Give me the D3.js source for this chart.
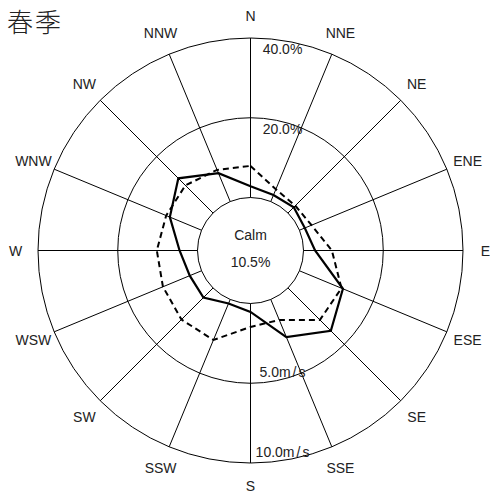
<!DOCTYPE html>
<html>
<head>
<meta charset="utf-8">
<script src="https://cdn.jsdelivr.net/npm/d3@7"></script>
<style>
  html, body { margin: 0; padding: 0; background: #fff; }
  svg { display: block; }
  text { font-family: "Liberation Sans", Arial, sans-serif; fill: #222; }
</style>
</head>
<body>
<svg id="chart" width="490" height="495"></svg>
<script>
// ---- data ----
const title = "春季";
const directions = ["N","NNE","NE","ENE","E","ESE","SE","SSE","S","SSW","SW","WSW","W","WNW","NW","NNW"];
// frequency of occurrence (%), solid line
const frequency = [2.8, 1.75, 2.05, 1.45, 2.9, 11.8, 15.2, 10.2, 2.1, 1.1, 3.4, 3.2, 4.5, 8.6, 12.3, 7.7];
// mean wind speed (m/s), dashed line
const speed = [1.98, 0.83, 0.65, 0.82, 1.78, 2.85, 2.83, 1.39, 1.47, 2.75, 2.8, 2.62, 2.55, 2.4, 2.45, 2.15];
const calmLabel = "Calm";
const calmValue = "10.5%";
const freqTicks = [20, 40];
const freqTickLabels = ["20.0%", "40.0%"];
const speedTicks = [5, 10];
const speedTickLabels = ["5.0m/s", "10.0m/s"];

// ---- layout ----
const cx = 250.5, cy = 250.5;
const rCalm = 53, rOuter = 212.5, rLabel = 235;
const rFreq = d3.scaleLinear().domain([0, 40]).range([rCalm, rOuter]);
const rSpeed = d3.scaleLinear().domain([0, 10]).range([rCalm, rOuter]);
const angle = d3.scalePoint().domain(directions).range([0, 2 * Math.PI * (15 / 16)]);

const svg = d3.select("#chart");
const g = svg.append("g").attr("transform", `translate(${cx},${cy})`);

// rings
const rings = [rCalm].concat(freqTicks.map(rFreq));
g.selectAll("circle.ring").data(rings).join("circle")
  .attr("class", "ring")
  .attr("r", d => d)
  .attr("fill", "none").attr("stroke", "#000").attr("stroke-width", 1);

// spokes
g.selectAll("line.spoke").data(directions).join("line")
  .attr("class", "spoke")
  .attr("x1", d => rCalm * Math.sin(angle(d)))
  .attr("y1", d => -rCalm * Math.cos(angle(d)))
  .attr("x2", d => rOuter * Math.sin(angle(d)))
  .attr("y2", d => -rOuter * Math.cos(angle(d)))
  .attr("stroke", "#000").attr("stroke-width", 1);

// direction labels
g.selectAll("text.dir").data(directions).join("text")
  .attr("class", "dir")
  .attr("x", d => rLabel * Math.sin(angle(d)))
  .attr("y", d => -rLabel * Math.cos(angle(d)))
  .attr("text-anchor", "middle")
  .attr("dominant-baseline", "central")
  .attr("font-size", 14)
  .text(d => d);

// tick labels (frequency) - top
g.selectAll("text.ftick").data(freqTicks).join("text")
  .attr("class", "ftick")
  .attr("x", 32)
  .attr("y", d => -rFreq(d) + 16)
  .attr("text-anchor", "middle")
  .attr("font-size", 14)
  .text((d, i) => freqTickLabels[i]);

// tick labels (speed) - bottom
const st = g.selectAll("text.stick").data(speedTicks).join("text")
  .attr("class", "stick")
  .attr("x", 32)
  .attr("y", d => rSpeed(d) - 6)
  .attr("text-anchor", "middle")
  .attr("font-size", 14);
st.each(function(d, i) {
  const lab = speedTickLabels[i];
  const k = lab.indexOf("/");
  const t = d3.select(this);
  t.append("tspan").text(lab.slice(0, k));
  t.append("tspan").attr("dx", 2).text("/");
  t.append("tspan").attr("dx", 2).text(lab.slice(k + 1));
});

// frequency polygon (solid)
const freqLine = d3.lineRadial()
  .angle((d, i) => angle(directions[i]))
  .radius(d => rFreq(d))
  .curve(d3.curveLinearClosed);
g.append("path").datum(frequency)
  .attr("d", freqLine)
  .attr("fill", "none").attr("stroke", "#000").attr("stroke-width", 2.2)
  .attr("stroke-linejoin", "miter");

// speed polygon (dashed)
const speedLine = d3.lineRadial()
  .angle((d, i) => angle(directions[i]))
  .radius(d => rSpeed(d))
  .curve(d3.curveLinearClosed);
g.append("path").datum(speed)
  .attr("d", speedLine)
  .attr("fill", "none").attr("stroke", "#000").attr("stroke-width", 2)
  .attr("stroke-dasharray", "6,4");

// calm
g.append("text").attr("x", 0).attr("y", -11).attr("text-anchor", "middle")
  .attr("font-size", 14).text(calmLabel);
g.append("text").attr("x", 0).attr("y", 16).attr("text-anchor", "middle")
  .attr("font-size", 14).text(calmValue);

// title
svg.append("text").attr("x", 7).attr("y", 32)
  .style("font-family", "'Noto Sans CJK JP', 'Noto Sans CJK SC', sans-serif")
  .style("font-weight", 300)
  .attr("font-size", 26).attr("fill", "#111")
  .attr("letter-spacing", 2)
  .text(title);
</script>
</body>
</html>
